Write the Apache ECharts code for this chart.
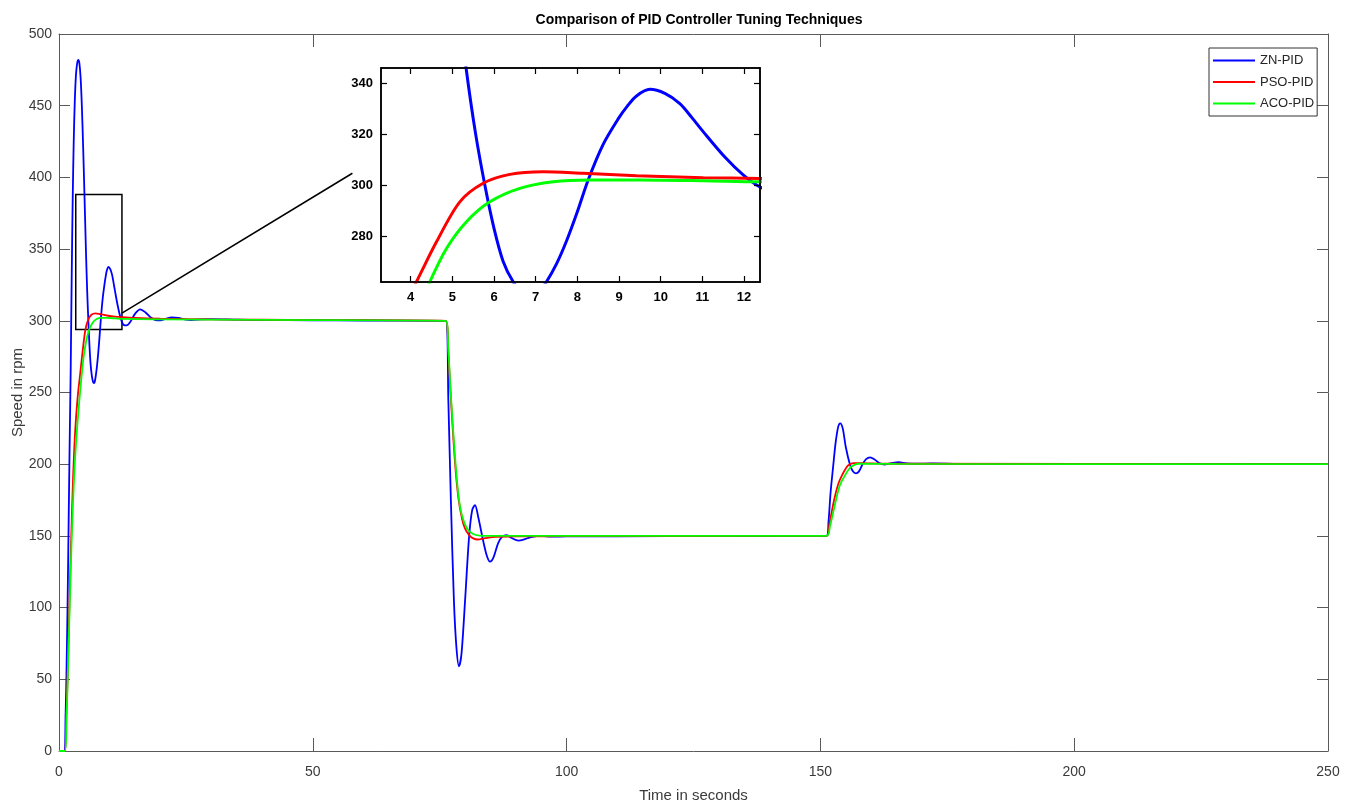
<!DOCTYPE html>
<html><head><meta charset="utf-8">
<script src="https://cdn.jsdelivr.net/npm/echarts@6/dist/echarts.min.js"></script>
<style>html,body{margin:0;padding:0;background:#fff}#c{width:1355px;height:805px}</style>
</head><body><div id="c"></div>
<script>
const titleText = 'Comparison of PID Controller Tuning Techniques';
const xAxisName = 'Time in seconds';
const yAxisName = 'Speed in rpm';
const seriesNames = ['ZN-PID', 'PSO-PID', 'ACO-PID'];
const seriesColors = ['#0000ff', '#ff0000', '#00ff00'];

// [time (s), speed (rpm)]
const znPid = [
  [0,0],[1.0,0],[1.3,25],[1.5,60],[1.7,105],[1.9,160],[2.1,215],[2.3,265],[2.5,330],[2.7,385],[2.9,425],[3.1,452],
  [3.35,472],[3.6,480],[3.8,482],[4.0,480],[4.25,470],[4.5,450],[4.75,422],[5.0,390],[5.33,346],[5.55,321],[5.78,300],
  [6.0,283],[6.22,270],[6.46,262],[6.7,257.5],[6.9,256.5],[7.05,257.5],[7.26,262],[7.5,269],[7.74,278],[8.0,289.5],
  [8.26,302],[8.62,316],[8.98,326],[9.2,331],[9.42,335],[9.74,337.6],[10.1,336],[10.46,332],[10.75,326.5],[11.02,321],
  [11.54,311],[11.98,304],[12.38,299.3],[12.8,297],[13.3,296.8],[14,299],[15,305],[16,308],[17,306],[18,302.5],[19,300.5],
  [20,300.3],[21,301.3],[22.2,302.3],[23.5,302],[25,300.8],[26,300.5],[28,301],[30,301.2],[35,300.8],[40,300.5],[50,300.4],
  [60,300.2],[76.2,300],
  [76.7,245],[77.2,175],[77.8,105],[78.3,72],[78.8,59],[79.3,68],[80.0,105],[80.8,150],[81.4,168],[81.95,171.5],[82.6,163],
  [83.6,146],[84.3,136],[84.9,132],[85.6,135],[86.5,144.8],[87.3,149.5],[88.2,150.6],[89.2,148.5],[90.5,146.7],[91.6,147.5],
  [92.8,149],[95,150],[97,149.5],[100,149.6],[120,149.8],[151.2,150],
  [151.6,160],[152.0,180],[152.5,198],[153.0,215],[153.5,226],[153.9,228.5],[154.4,225],[155.0,212],[155.8,200],[156.4,195],
  [157.0,193.6],[157.6,195],[158.3,200],[159.0,203.5],[159.8,204.8],[160.6,203.5],[161.6,200.8],[162.7,199.8],[164,200.7],
  [165.4,201.4],[167,200.6],[169,200.3],[172,200.5],[180,200.1],[200,200],[250,200]
];
const psoPid = [
  [0,0],[1.15,0],[1.4,20],[1.7,52],[2.0,95],[2.4,148],[2.8,193],[3.2,224],[3.68,247],[4.14,262],[4.62,277.7],[5.18,293.4],
  [5.74,300.7],[6.38,304.2],[7.18,305.2],[8.14,304.6],[9.42,303.7],[11.02,302.9],[12.38,302.6],[15,302],[20,301.5],[30,301],
  [50,300.5],[76.2,300],
  [76.7,278],[77.2,246],[78,202],[78.7,176],[79.4,162],[80,155],[80.8,150.5],[81.6,148.3],[82.5,147.5],[83.5,148],[85,149],
  [90,149.6],[100,149.8],[151.2,150],
  [151.8,159],[152.7,175],[153.5,186],[154.2,191.8],[155,197],[155.5,199.2],[156.5,200.8],[158,200.7],[165,200.3],[250,200]
];
const acoPid = [
  [0,0],[1.18,0],[1.5,25],[1.75,55],[2.1,100],[2.5,148],[3.0,193],[3.5,222],[4.0,244],[4.46,262],[4.86,275.1],[5.34,285.6],
  [5.9,293.4],[6.62,298.7],[7.42,301.3],[8.3,302],[9.5,302],[11.02,301.7],[12.38,301.3],[20,301],[40,300.6],[76.2,300],
  [76.7,280],[77.2,248],[78,206],[78.7,178],[79.4,164],[80.4,155],[81.5,151.5],[82.9,150.2],[85,150],[151.2,150],
  [151.9,157],[153.0,174],[153.8,185],[154.7,191.3],[155.6,196.5],[156.5,199.2],[157.5,200.3],[165,200.2],[250,200]
];
const seriesData = [znPid, psoPid, acoPid];

const mainXRange = [0, 250], mainXStep = 50;
const mainYRange = [0, 500], mainYStep = 50;
const insetXRange = [3.288, 12.384];
const insetYRange = [261.9, 346.0];
const insetXTicks = [4, 5, 6, 7, 8, 9, 10, 11, 12];
const insetYTicks = [280, 300, 320, 340];
const zoomBox = [[3.3, 388], [12.4, 294]];
const connector = [[12.4, 305.3], [57.8, 402.9]];

const FONT = '"Liberation Sans", Arial, sans-serif';
const axisGray = '#5a5a5a';
const labelGray = '#3a3a3a';

function mainX(pos, showLabel) {
  return {
    gridIndex: 0, type: 'value', min: mainXRange[0], max: mainXRange[1], interval: mainXStep, position: pos,
    axisLine: { show: true, onZero: false, lineStyle: { color: axisGray, width: 1 } },
    axisTick: { show: true, inside: true, length: 13, lineStyle: { color: axisGray, width: 1 } },
    axisLabel: { show: showLabel, color: labelGray, fontSize: 14, fontFamily: FONT, margin: 14 },
    splitLine: { show: false },
    name: showLabel ? xAxisName : '', nameLocation: 'middle', nameGap: 37, nameMoveOverlap: false,
    nameTextStyle: { color: labelGray, fontSize: 15, fontFamily: FONT }
  };
}
function mainY(pos, showLabel) {
  return {
    gridIndex: 0, type: 'value', min: mainYRange[0], max: mainYRange[1], interval: mainYStep, position: pos,
    axisLine: { show: true, onZero: false, lineStyle: { color: axisGray, width: 1 } },
    axisTick: { show: true, inside: true, length: 11, lineStyle: { color: axisGray, width: 1 } },
    axisLabel: { show: showLabel, color: labelGray, fontSize: 14, fontFamily: FONT, margin: 7 },
    splitLine: { show: false },
    name: showLabel ? yAxisName : '', nameLocation: 'middle', nameGap: 34, nameRotate: 90, nameMoveOverlap: false,
    nameTextStyle: { color: labelGray, fontSize: 15, fontFamily: FONT }
  };
}
function insetX(pos, showLabel) {
  return {
    gridIndex: 1, type: 'value', min: insetXRange[0], max: insetXRange[1], position: pos, z: 6,
    axisLine: { show: true, onZero: false, lineStyle: { color: '#000', width: 1.5 } },
    axisTick: { show: true, inside: true, length: 6, customValues: insetXTicks, lineStyle: { color: '#000', width: 1.2 } },
    axisLabel: { show: showLabel, customValues: insetXTicks, color: '#000', fontWeight: 'bold', fontSize: 13, fontFamily: FONT, margin: 9 },
    splitLine: { show: false }
  };
}
function insetY(pos, showLabel) {
  return {
    gridIndex: 1, type: 'value', min: insetYRange[0], max: insetYRange[1], position: pos, z: 6,
    axisLine: { show: true, onZero: false, lineStyle: { color: '#000', width: 1.5 } },
    axisTick: { show: true, inside: true, length: 6, customValues: insetYTicks, lineStyle: { color: '#000', width: 1.2 } },
    axisLabel: { show: showLabel, customValues: insetYTicks, color: '#000', fontWeight: 'bold', fontSize: 13, fontFamily: FONT, margin: 8 },
    splitLine: { show: false }
  };
}

const series = [];
seriesNames.forEach((name, i) => {
  const s = {
    name, type: 'line', xAxisIndex: 0, yAxisIndex: 0, data: seriesData[i],
    color: seriesColors[i], showSymbol: false, symbol: 'none', smooth: 0.3, z: 2,
    lineStyle: { color: seriesColors[i], width: 1.8 }
  };
  if (i === 0) {
    s.markArea = {
      silent: true, label: { show: false },
      itemStyle: { color: 'rgba(0,0,0,0)', borderColor: '#000', borderWidth: 1.5 },
      data: [[{ coord: zoomBox[0] }, { coord: zoomBox[1] }]]
    };
    s.markLine = {
      silent: true, symbol: ['none', 'none'], label: { show: false },
      lineStyle: { color: '#000', width: 1.5, type: 'solid' },
      data: [[{ coord: connector[0] }, { coord: connector[1] }]]
    };
  }
  series.push(s);
});
seriesNames.forEach((name, i) => {
  series.push({
    name, type: 'line', xAxisIndex: 2, yAxisIndex: 2, data: seriesData[i], clip: true,
    color: seriesColors[i], showSymbol: false, symbol: 'none', smooth: 0.3, z: 5,
    lineStyle: { color: seriesColors[i], width: 3 }
  });
});

const option = {
  animation: false,
  backgroundColor: '#fff',
  title: {
    text: titleText, left: 694, top: 8, textAlign: 'center',
    textStyle: { fontSize: 14, fontWeight: 'bold', color: '#000', fontFamily: FONT }
  },
  legend: {
    data: seriesNames, orient: 'vertical', left: 1209, top: 48,
    padding: [6, 3, 6, 4], itemGap: 8.5, itemWidth: 42, itemHeight: 2, icon: 'rect',
    backgroundColor: '#fff', borderColor: '#333', borderWidth: 1,
    textStyle: { fontSize: 13, color: '#262626', fontFamily: FONT }
  },
  grid: [
    { left: 59, top: 34, right: 27, bottom: 54, show: false, outerBoundsMode: 'none', containLabel: false },
    { left: 381, top: 68, width: 379, height: 214, show: true, backgroundColor: '#fff', borderColor: '#000', borderWidth: 1.5, z: 4, outerBoundsMode: 'none', containLabel: false }
  ],
  xAxis: [mainX('bottom', true), mainX('top', false), insetX('bottom', true), insetX('top', false)],
  yAxis: [mainY('left', true), mainY('right', false), insetY('left', true), insetY('right', false)],
  series
};
const chart = echarts.init(document.getElementById('c'), null, { renderer: 'canvas' });
chart.setOption(option);
</script></body></html>
